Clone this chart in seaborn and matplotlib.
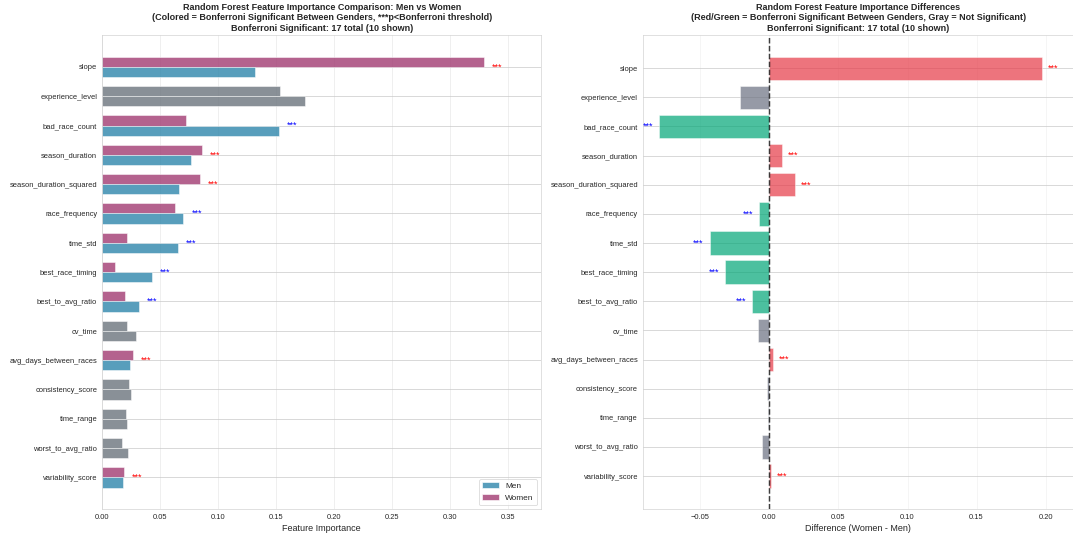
import numpy as np
import pandas as pd
import matplotlib
matplotlib.use("Agg")
import matplotlib.pyplot as plt
import seaborn as sns
from matplotlib.patches import Patch

# ---------------- data ----------------
features = [
    "slope", "experience_level", "bad_race_count", "season_duration",
    "season_duration_squared", "race_frequency", "time_std", "best_race_timing",
    "best_to_avg_ratio", "cv_time", "avg_days_between_races", "consistency_score",
    "time_range", "worst_to_avg_ratio", "variability_score",
]
men_importance = [0.1317, 0.1746, 0.1519, 0.0763, 0.0659, 0.0697, 0.0648, 0.0429,
                  0.0315, 0.0292, 0.0237, 0.0246, 0.0214, 0.0220, 0.0177]
women_importance = [0.3289, 0.1530, 0.0717, 0.0855, 0.0841, 0.0622, 0.0214, 0.0105,
                    0.0191, 0.0211, 0.0263, 0.0228, 0.0203, 0.0165, 0.0185]
significant = [True, False, True, True, True, True, True, True,
               True, False, True, False, False, False, True]

MEN_C = "#2E86AB"
WOMEN_C = "#A23B72"
GRAY_L = "#6C757D"
RED_R = "#E63946"
GREEN_R = "#00A676"
GRAY_R = "#6A7080"

# ---------------- style ----------------
sns.set_style("whitegrid")
plt.rcParams['font.family'] = ['Liberation Sans', 'DejaVu Sans']

DPI = 53.65
fig = plt.figure(figsize=(1073 / DPI, 533 / DPI), dpi=DPI)
ax1 = fig.add_axes([0.0955, 0.0445, 0.4087, 0.8898])
ax2 = fig.add_axes([0.5995, 0.0445, 0.4005, 0.8898])

n = len(features)
men = np.array(men_importance)
women = np.array(women_importance)
diff = women - men

# ---------------- left panel ----------------
df = pd.DataFrame({
    "feature": features * 2,
    "importance": list(women) + list(men),
    "gender": ["Women"] * n + ["Men"] * n,
})
sns.barplot(data=df, y="feature", x="importance", hue="gender",
            hue_order=["Women", "Men"], palette={"Women": WOMEN_C, "Men": MEN_C},
            orient="h", width=0.7, dodge=True, errorbar=None, legend=False,
            saturation=1, alpha=0.8, edgecolor="white", linewidth=0.8, ax=ax1)
for cont in ax1.containers:
    for j, bar in enumerate(cont):
        if not significant[j]:
            bar.set_facecolor(GRAY_L)
            bar.set_alpha(0.8)

pad = 0.35 + 0.05 * (n - 1 + 0.7)
ax1.set_ylim(n - 1 + pad, -pad)
ax1.set_xlim(0, max(women.max(), men.max()) * 1.15)
ax1.yaxis.grid(True, color=".8", linewidth=1)
ax1.xaxis.grid(True, color=".8", alpha=0.5)
ax1.set_axisbelow(True)

for j in range(n):
    if significant[j]:
        col = "red" if women[j] > men[j] else "blue"
        ax1.text(max(women[j], men[j]) + 0.0115, j, "***", ha="center", va="center",
                 color=col, fontsize=12)

ax1.set_xlabel("Feature Importance", fontsize=12)
ax1.set_ylabel("")
ax1.tick_params(axis="both", labelsize=10)
ax1.set_title("Random Forest Feature Importance Comparison: Men vs Women\n"
              "(Colored = Bonferroni Significant Between Genders, ***p<Bonferroni threshold)\n"
              "Bonferroni Significant: 17 total (10 shown)",
              fontsize=12, fontweight="bold")
handles = [Patch(facecolor=MEN_C, alpha=0.8, label="Men"),
           Patch(facecolor=WOMEN_C, alpha=0.8, label="Women")]
ax1.legend(handles=handles, loc="lower right", fontsize=11, frameon=True)

# ---------------- right panel ----------------
colors = [(RED_R if d > 0 else GREEN_R) if s else GRAY_R for d, s in zip(diff, significant)]
sns.barplot(x=diff, y=features, hue=features, palette=colors, legend=False,
            orient="h", width=0.8, errorbar=None, saturation=1, alpha=0.7,
            edgecolor="white", linewidth=0.8, ax=ax2)
pad2 = 0.4 + 0.05 * (n - 1 + 0.8)
ax2.set_ylim(n - 1 + pad2, -pad2)
ax2.set_xlim(diff.min() * 1.14, diff.max() * 1.115)
ax2.axvline(0, color="black", linestyle="--", linewidth=2, alpha=0.75)
ax2.yaxis.grid(True, color=".8", linewidth=1)
ax2.xaxis.grid(True, color=".8", alpha=0.3)
ax2.set_axisbelow(True)

for j in range(n):
    if significant[j]:
        col = "red" if diff[j] > 0 else "blue"
        off = 0.008 if diff[j] > 0 else -0.008
        ax2.text(diff[j] + off, j, "***", ha="center", va="center",
                 color=col, fontsize=12)

ax2.set_xlabel("Difference (Women - Men)", fontsize=12)
ax2.set_ylabel("")
ax2.tick_params(axis="both", labelsize=10)
ax2.set_title("Random Forest Feature Importance Differences\n"
              "(Red/Green = Bonferroni Significant Between Genders, Gray = Not Significant)\n"
              "Bonferroni Significant: 17 total (10 shown)",
              fontsize=12, fontweight="bold")

fig.savefig("out.png", dpi=DPI)
